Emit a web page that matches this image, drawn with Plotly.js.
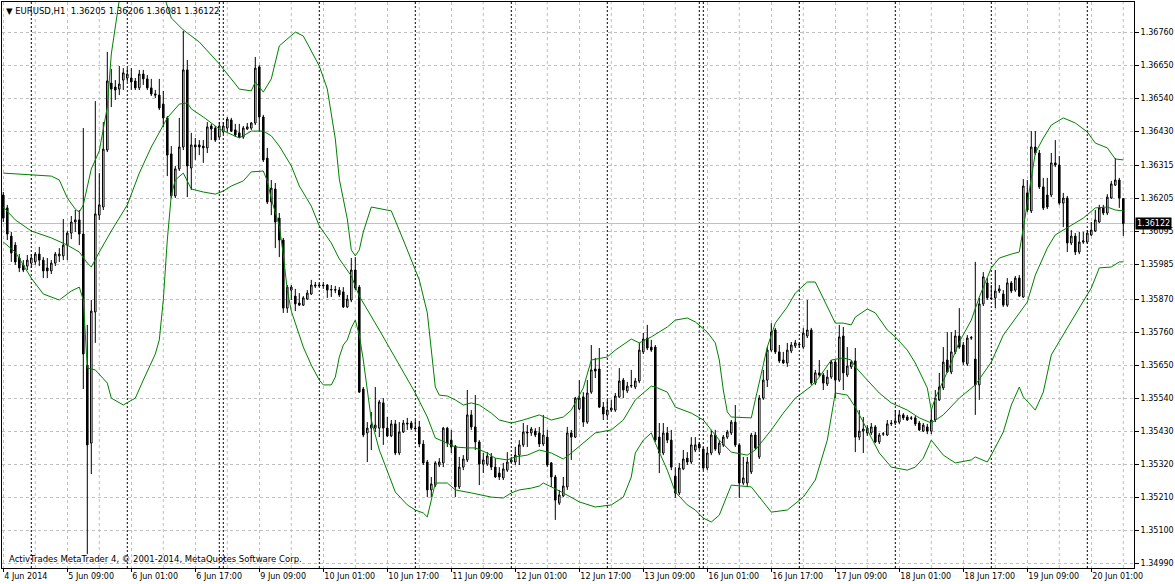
<!DOCTYPE html>
<html><head><meta charset="utf-8">
<script src="https://cdn.plot.ly/plotly-3.0.1.min.js"></script>
<style>html,body{margin:0;padding:0;background:#fff;}#chart{width:1175px;height:584px;}</style>
</head><body><div id="chart"></div>
<script>
// bar index 0 = 5 Jun 2014 00:00 (H1 bars, trading hours only)
const firstBar = -7;
const symbolName = "EURUSD,H1";
const opens = [1.36217,1.36174,1.36080,1.36050,1.36007,1.35984,1.35980,1.35990,1.35994,1.36020,1.36000,1.35974,1.35964,1.35990,1.36014,1.36014,1.36050,1.36090,1.36127,1.36134,1.36087,1.35650,1.35390,1.35827,1.36150,1.36177,1.36367,1.36590,1.36577,1.36570,1.36600,1.36607,1.36607,1.36597,1.36574,1.36620,1.36604,1.36574,1.36554,1.36550,1.36520,1.36474,1.36354,1.36214,1.36304,1.36377,1.36634,1.36307,1.36384,1.36384,1.36380,1.36374,1.36447,1.36440,1.36410,1.36427,1.36440,1.36467,1.36434,1.36424,1.36410,1.36437,1.36440,1.36457,1.36644,1.36477,1.36340,1.36194,1.36237,1.36140,1.36067,1.35840,1.35900,1.35880,1.35857,1.35850,1.35870,1.35887,1.35917,1.35914,1.35917,1.35917,1.35900,1.35902,1.35900,1.35894,1.35844,1.35867,1.35967,1.35910,1.35570,1.35424,1.35440,1.35440,1.35440,1.35524,1.35440,1.35414,1.35454,1.35357,1.35427,1.35457,1.35457,1.35440,1.35444,1.35387,1.35327,1.35234,1.35250,1.35317,1.35324,1.35440,1.35400,1.35380,1.35244,1.35310,1.35334,1.35484,1.35444,1.35394,1.35320,1.35320,1.35344,1.35310,1.35290,1.35274,1.35300,1.35327,1.35327,1.35350,1.35384,1.35427,1.35424,1.35430,1.35424,1.35387,1.35410,1.35324,1.35277,1.35190,1.35214,1.35244,1.35424,1.35410,1.35504,1.35544,1.35460,1.35560,1.35637,1.35637,1.35510,1.35484,1.35500,1.35500,1.35544,1.35600,1.35564,1.35580,1.35577,1.35597,1.35694,1.35740,1.35710,1.35710,1.35410,1.35357,1.35424,1.35400,1.35280,1.35224,1.35304,1.35340,1.35327,1.35367,1.35387,1.35370,1.35307,1.35357,1.35417,1.35357,1.35384,1.35410,1.35424,1.35460,1.35384,1.35257,1.35257,1.35294,1.35417,1.35344,1.35540,1.35600,1.35700,1.35767,1.35694,1.35667,1.35657,1.35697,1.35714,1.35717,1.35710,1.35747,1.35767,1.35590,1.35624,1.35617,1.35587,1.35610,1.35660,1.35600,1.35747,1.35617,1.35644,1.35664,1.35410,1.35430,1.35424,1.35424,1.35444,1.35394,1.35420,1.35417,1.35457,1.35457,1.35460,1.35484,1.35477,1.35474,1.35474,1.35457,1.35430,1.35444,1.35430,1.35467,1.35534,1.35574,1.35667,1.35627,1.35694,1.35747,1.35717,1.35654,1.35740,1.35670,1.35584,1.35854,1.35924,1.35874,1.35874,1.35897,1.35887,1.35850,1.35924,1.35900,1.35940,1.35877,1.36224,1.36164,1.36377,1.36357,1.36244,1.36217,1.36217,1.36324,1.36317,1.36190,1.36207,1.36057,1.36080,1.36027,1.36060,1.36060,1.36084,1.36097,1.36127,1.36174,1.36157,1.36207,1.36250,1.36267,1.36205];
const highs = [1.36227,1.36184,1.36094,1.36060,1.36020,1.36000,1.36017,1.36020,1.36027,1.36044,1.36010,1.36007,1.36000,1.36027,1.36040,1.36137,1.36097,1.36147,1.36167,1.36167,1.36440,1.35784,1.35867,1.36530,1.36290,1.36460,1.36694,1.36637,1.36600,1.36647,1.36640,1.36640,1.36640,1.36607,1.36634,1.36634,1.36617,1.36604,1.36567,1.36604,1.36564,1.36480,1.36380,1.36314,1.36474,1.36764,1.36667,1.36424,1.36407,1.36400,1.36400,1.36460,1.36454,1.36447,1.36460,1.36460,1.36477,1.36474,1.36454,1.36454,1.36447,1.36457,1.36460,1.36677,1.36650,1.36484,1.36374,1.36267,1.36257,1.36157,1.36074,1.35917,1.35917,1.35904,1.35890,1.35880,1.35900,1.35934,1.35927,1.35924,1.35927,1.35920,1.35917,1.35914,1.35910,1.35910,1.35884,1.36007,1.36010,1.35917,1.35577,1.35460,1.35494,1.35577,1.35534,1.35540,1.35477,1.35467,1.35467,1.35460,1.35467,1.35474,1.35464,1.35467,1.35464,1.35400,1.35334,1.35277,1.35330,1.35340,1.35444,1.35444,1.35434,1.35384,1.35344,1.35350,1.35567,1.35500,1.35550,1.35400,1.35357,1.35360,1.35357,1.35340,1.35310,1.35324,1.35360,1.35344,1.35377,1.35400,1.35457,1.35450,1.35444,1.35440,1.35444,1.35484,1.35434,1.35327,1.35284,1.35234,1.35277,1.35444,1.35434,1.35544,1.35600,1.35560,1.35600,1.35717,1.35674,1.35707,1.35527,1.35534,1.35534,1.35557,1.35640,1.35607,1.35594,1.35634,1.35607,1.35724,1.35757,1.35784,1.35734,1.35717,1.35457,1.35457,1.35444,1.35434,1.35310,1.35324,1.35367,1.35360,1.35410,1.35410,1.35394,1.35377,1.35377,1.35434,1.35434,1.35400,1.35417,1.35434,1.35467,1.35517,1.35390,1.35344,1.35344,1.35424,1.35427,1.35550,1.35634,1.35710,1.35790,1.35774,1.35717,1.35694,1.35724,1.35727,1.35734,1.35727,1.35774,1.35867,1.35774,1.35634,1.35667,1.35624,1.35634,1.35667,1.35667,1.35784,1.35777,1.35710,1.35667,1.35707,1.35500,1.35477,1.35450,1.35457,1.35450,1.35424,1.35427,1.35467,1.35467,1.35500,1.35500,1.35490,1.35484,1.35480,1.35480,1.35464,1.35457,1.35454,1.35500,1.35567,1.35624,1.35710,1.35760,1.35760,1.35767,1.35840,1.35727,1.35750,1.35747,1.35994,1.35874,1.35960,1.35940,1.35917,1.35967,1.35917,1.35900,1.35940,1.35930,1.35947,1.35950,1.36270,1.36267,1.36430,1.36430,1.36367,1.36274,1.36274,1.36357,1.36400,1.36347,1.36224,1.36214,1.36100,1.36090,1.36094,1.36094,1.36100,1.36127,1.36167,1.36184,1.36184,1.36220,1.36264,1.36340,1.36274,1.36206];
const lows = [1.36127,1.36067,1.35994,1.35984,1.35960,1.35960,1.35967,1.35974,1.35984,1.35980,1.35940,1.35940,1.35954,1.35980,1.35994,1.36000,1.36000,1.36070,1.36094,1.36050,1.35570,1.35020,1.35287,1.35724,1.36134,1.36167,1.36360,1.36510,1.36534,1.36550,1.36567,1.36594,1.36567,1.36567,1.36567,1.36584,1.36567,1.36547,1.36540,1.36500,1.36444,1.36280,1.36207,1.36207,1.36297,1.36367,1.36210,1.36234,1.36334,1.36350,1.36324,1.36357,1.36400,1.36394,1.36407,1.36420,1.36427,1.36427,1.36410,1.36407,1.36404,1.36434,1.36434,1.36450,1.36427,1.36327,1.36187,1.36150,1.36040,1.36010,1.35824,1.35824,1.35867,1.35830,1.35847,1.35847,1.35867,1.35884,1.35907,1.35910,1.35904,1.35874,1.35877,1.35890,1.35877,1.35840,1.35840,1.35860,1.35900,1.35557,1.35410,1.35327,1.35367,1.35427,1.35410,1.35384,1.35410,1.35410,1.35350,1.35350,1.35424,1.35434,1.35434,1.35434,1.35377,1.35317,1.35210,1.35210,1.35244,1.35310,1.35310,1.35377,1.35357,1.35210,1.35237,1.35300,1.35327,1.35434,1.35367,1.35250,1.35290,1.35314,1.35300,1.35274,1.35267,1.35267,1.35294,1.35324,1.35317,1.35317,1.35377,1.35377,1.35414,1.35410,1.35377,1.35380,1.35310,1.35244,1.35134,1.35184,1.35210,1.35234,1.35334,1.35407,1.35500,1.35444,1.35454,1.35554,1.35607,1.35507,1.35467,1.35474,1.35494,1.35494,1.35540,1.35540,1.35557,1.35574,1.35570,1.35590,1.35687,1.35700,1.35694,1.35394,1.35290,1.35350,1.35390,1.35300,1.35207,1.35217,1.35300,1.35317,1.35320,1.35360,1.35367,1.35300,1.35300,1.35350,1.35364,1.35350,1.35377,1.35404,1.35417,1.35377,1.35207,1.35250,1.35244,1.35287,1.35367,1.35337,1.35534,1.35577,1.35694,1.35687,1.35657,1.35654,1.35644,1.35690,1.35707,1.35707,1.35704,1.35740,1.35584,1.35584,1.35610,1.35567,1.35580,1.35604,1.35540,1.35594,1.35567,1.35610,1.35637,1.35360,1.35400,1.35357,1.35414,1.35417,1.35390,1.35387,1.35414,1.35414,1.35447,1.35450,1.35454,1.35467,1.35464,1.35467,1.35447,1.35430,1.35427,1.35420,1.35420,1.35460,1.35530,1.35567,1.35624,1.35620,1.35687,1.35704,1.35650,1.35647,1.35734,1.35484,1.35534,1.35847,1.35867,1.35867,1.35840,1.35890,1.35844,1.35844,1.35890,1.35894,1.35877,1.35874,1.36160,1.36157,1.36350,1.36237,1.36167,1.36170,1.36210,1.36310,1.36184,1.36110,1.36027,1.36050,1.36017,1.36020,1.36054,1.36054,1.36080,1.36094,1.36124,1.36150,1.36150,1.36204,1.36247,1.36174,1.36081];
const closes = [1.36140,1.36087,1.36024,1.35994,1.35974,1.35967,1.36000,1.36007,1.36020,1.36000,1.35964,1.35964,1.35990,1.36020,1.36020,1.36050,1.36090,1.36127,1.36134,1.36087,1.35687,1.35384,1.35830,1.36154,1.36184,1.36370,1.36597,1.36570,1.36567,1.36587,1.36624,1.36620,1.36594,1.36574,1.36620,1.36604,1.36574,1.36554,1.36550,1.36507,1.36474,1.36350,1.36214,1.36304,1.36377,1.36634,1.36314,1.36384,1.36377,1.36377,1.36374,1.36444,1.36437,1.36400,1.36447,1.36447,1.36470,1.36430,1.36417,1.36410,1.36440,1.36444,1.36457,1.36640,1.36477,1.36334,1.36194,1.36240,1.36127,1.36067,1.35840,1.35910,1.35910,1.35854,1.35850,1.35874,1.35890,1.35917,1.35914,1.35917,1.35915,1.35900,1.35902,1.35900,1.35884,1.35844,1.35870,1.35967,1.35907,1.35560,1.35417,1.35440,1.35450,1.35450,1.35527,1.35440,1.35414,1.35454,1.35357,1.35427,1.35457,1.35454,1.35440,1.35438,1.35387,1.35324,1.35234,1.35254,1.35324,1.35327,1.35440,1.35390,1.35377,1.35244,1.35310,1.35337,1.35484,1.35444,1.35394,1.35320,1.35334,1.35347,1.35310,1.35277,1.35277,1.35304,1.35327,1.35334,1.35350,1.35384,1.35427,1.35424,1.35437,1.35417,1.35387,1.35417,1.35317,1.35277,1.35200,1.35217,1.35247,1.35424,1.35410,1.35540,1.35540,1.35460,1.35557,1.35634,1.35630,1.35510,1.35487,1.35500,1.35507,1.35547,1.35597,1.35567,1.35580,1.35582,1.35597,1.35700,1.35737,1.35707,1.35700,1.35400,1.35357,1.35424,1.35400,1.35310,1.35224,1.35307,1.35337,1.35327,1.35384,1.35384,1.35374,1.35307,1.35357,1.35417,1.35370,1.35390,1.35410,1.35427,1.35460,1.35384,1.35257,1.35274,1.35327,1.35417,1.35374,1.35540,1.35600,1.35700,1.35760,1.35694,1.35664,1.35657,1.35700,1.35717,1.35724,1.35719,1.35757,1.35767,1.35590,1.35624,1.35617,1.35590,1.35610,1.35660,1.35600,1.35744,1.35624,1.35647,1.35660,1.35410,1.35430,1.35437,1.35440,1.35444,1.35394,1.35417,1.35421,1.35454,1.35455,1.35464,1.35484,1.35474,1.35467,1.35473,1.35454,1.35434,1.35450,1.35430,1.35467,1.35540,1.35577,1.35660,1.35627,1.35694,1.35747,1.35710,1.35660,1.35740,1.35742,1.35584,1.35854,1.35944,1.35874,1.35872,1.35897,1.35904,1.35850,1.35924,1.35897,1.35940,1.35880,1.36247,1.36167,1.36377,1.36357,1.36244,1.36174,1.36177,1.36324,1.36317,1.36190,1.36207,1.36057,1.36080,1.36027,1.36060,1.36064,1.36090,1.36100,1.36134,1.36174,1.36157,1.36210,1.36254,1.36267,1.36207,1.36122];

const upperBars = [-7,5,7,9,11,12,13,15,17,19,20,22,24,28,31,33,35,38,42,47,52,55,56,58,60,62,65,66,68,72,74,76,77,79,80,81,82,83,85,90,93,97,99,100,101,102,104,106,108,110,112,115,117,120,123,127,130,133,135,138,140,144,146,150,152,155,159,161,164,166,169,171,172,173,174,175,180,181,184,186,189,191,194,196,199,201,203,205,206,209,211,214,216,219,221,224,225,226,229,232,235,237,240,242,245,247,248,250,251,253,255,258,261,264,266,269,271,273];
const upperVals = [1.36290,1.36280,1.36267,1.36207,1.36170,1.36160,1.36184,1.36304,1.36364,1.36510,1.36687,1.36867,1.36967,1.37034,1.36967,1.36884,1.36807,1.36767,1.36727,1.36654,1.36570,1.36564,1.36594,1.36560,1.36604,1.36714,1.36747,1.36760,1.36747,1.36647,1.36570,1.36404,1.36270,1.36137,1.36034,1.36014,1.36034,1.36094,1.36177,1.36164,1.36067,1.35934,1.35824,1.35700,1.35577,1.35550,1.35547,1.35534,1.35517,1.35524,1.35517,1.35490,1.35467,1.35457,1.35467,1.35484,1.35467,1.35477,1.35500,1.35574,1.35667,1.35677,1.35700,1.35737,1.35724,1.35744,1.35777,1.35800,1.35807,1.35794,1.35760,1.35724,1.35667,1.35567,1.35494,1.35477,1.35474,1.35534,1.35710,1.35790,1.35844,1.35890,1.35927,1.35927,1.35844,1.35790,1.35790,1.35784,1.35810,1.35837,1.35824,1.35767,1.35744,1.35700,1.35657,1.35574,1.35500,1.35540,1.35627,1.35727,1.35800,1.35877,1.35974,1.36007,1.36020,1.36027,1.36107,1.36284,1.36357,1.36407,1.36450,1.36474,1.36457,1.36427,1.36390,1.36374,1.36337,1.36334];
const middleBars = [-7,-4,0,5,9,12,14,15,17,20,24,27,30,34,37,39,40,43,47,52,55,58,60,62,65,67,70,72,75,77,80,82,87,92,96,99,101,104,106,109,111,114,116,119,121,124,127,130,133,135,138,141,145,148,151,155,156,159,161,165,168,171,172,175,179,181,185,188,191,195,197,200,203,205,206,209,212,215,219,222,225,228,232,236,240,243,246,249,251,254,256,260,263,266,269,271,273];
const middleVals = [1.36177,1.36134,1.36097,1.36074,1.36050,1.36027,1.35990,1.35977,1.36027,1.36097,1.36184,1.36290,1.36377,1.36474,1.36520,1.36524,1.36504,1.36477,1.36437,1.36407,1.36430,1.36430,1.36414,1.36380,1.36314,1.36247,1.36180,1.36114,1.36057,1.36004,1.35947,1.35880,1.35767,1.35650,1.35557,1.35477,1.35407,1.35390,1.35377,1.35374,1.35374,1.35357,1.35340,1.35334,1.35344,1.35350,1.35367,1.35357,1.35337,1.35357,1.35390,1.35424,1.35434,1.35467,1.35534,1.35580,1.35577,1.35560,1.35510,1.35490,1.35467,1.35417,1.35400,1.35360,1.35350,1.35367,1.35434,1.35490,1.35540,1.35580,1.35610,1.35667,1.35674,1.35667,1.35644,1.35600,1.35557,1.35524,1.35500,1.35474,1.35457,1.35484,1.35540,1.35584,1.35660,1.35750,1.35807,1.35860,1.35950,1.36040,1.36084,1.36117,1.36140,1.36174,1.36177,1.36167,1.36164];
const lowerBars = [-7,-4,0,3,7,10,12,13,14,16,19,20,23,26,28,31,32,33,34,35,36,38,40,43,46,48,50,53,55,58,59,60,62,63,64,65,66,68,70,72,73,75,76,77,78,79,80,81,82,83,84,85,87,89,91,94,96,98,99,100,101,104,106,110,115,118,120,122,125,127,128,130,133,137,141,145,148,150,151,153,155,156,159,161,164,166,168,170,172,175,180,185,189,193,196,199,201,204,206,209,212,215,219,221,223,225,228,231,235,236,239,240,243,245,247,248,251,253,255,259,262,265,267,270,272,273];
const lowerVals = [1.36060,1.36027,1.35940,1.35887,1.35867,1.35897,1.35910,1.35867,1.35640,1.35634,1.35590,1.35540,1.35517,1.35540,1.35600,1.35687,1.35734,1.35867,1.36067,1.36217,1.36267,1.36290,1.36237,1.36227,1.36220,1.36230,1.36247,1.36264,1.36294,1.36297,1.36264,1.36204,1.36114,1.36017,1.35900,1.35830,1.35790,1.35710,1.35650,1.35600,1.35584,1.35584,1.35610,1.35677,1.35717,1.35734,1.35774,1.35800,1.35750,1.35667,1.35567,1.35467,1.35367,1.35294,1.35227,1.35184,1.35167,1.35157,1.35144,1.35200,1.35257,1.35257,1.35234,1.35224,1.35210,1.35207,1.35224,1.35234,1.35240,1.35247,1.35257,1.35244,1.35224,1.35194,1.35177,1.35184,1.35210,1.35277,1.35357,1.35400,1.35424,1.35390,1.35300,1.35227,1.35184,1.35167,1.35140,1.35127,1.35150,1.35250,1.35244,1.35160,1.35167,1.35210,1.35267,1.35400,1.35557,1.35550,1.35510,1.35434,1.35357,1.35310,1.35300,1.35310,1.35340,1.35400,1.35350,1.35324,1.35334,1.35344,1.35327,1.35350,1.35427,1.35517,1.35577,1.35544,1.35500,1.35560,1.35684,1.35774,1.35840,1.35907,1.35974,1.35977,1.35994,1.35994];

// axis labels
const timeLabelBars = [-7,9,25,41,57,73,89,105,121,137,153,169,185,201,217,233,249,265];
const timeLabels = ["4 Jun 2014","5 Jun 09:00","6 Jun 01:00","6 Jun 17:00","9 Jun 09:00","10 Jun 01:00","10 Jun 17:00","11 Jun 09:00","12 Jun 01:00","12 Jun 17:00","13 Jun 09:00","16 Jun 01:00","16 Jun 17:00","17 Jun 09:00","18 Jun 01:00","18 Jun 17:00","19 Jun 09:00","20 Jun 01:00"];
const priceTicks = [1.36760,1.36650,1.36540,1.36430,1.36315,1.36205,1.36095,1.35985,1.35870,1.35760,1.35650,1.35540,1.35430,1.35320,1.35210,1.35100,1.34990];
const daySeparatorBars = [0,24,47,48,72,96,120,144,167,168,192,216,240,264];
const copyrightText = "ActivTrades MetaTrader 4, © 2001-2014, MetaQuotes Software Corp.";

const bars = opens.map((_, i) => firstBar + i);
const last = opens.length - 1;
const lastPrice = closes[last];
const FONT = "DejaVu Sans, Verdana, sans-serif";
const GREEN = "#008000";
const GRID = "#C0C0C0";

const traces = [
  {
    type: "candlestick", x: bars, open: opens, high: highs, low: lows, close: closes,
    increasing: {line: {color: "#000", width: 1}, fillcolor: "#fff"},
    decreasing: {line: {color: "#000", width: 1}, fillcolor: "#000"},
    whiskerwidth: 0, hoverinfo: "skip", showlegend: false
  },
  {type: "scatter", mode: "lines", x: upperBars, y: upperVals, line: {color: GREEN, width: 1}, hoverinfo: "skip", showlegend: false},
  {type: "scatter", mode: "lines", x: middleBars, y: middleVals, line: {color: GREEN, width: 1}, hoverinfo: "skip", showlegend: false},
  {type: "scatter", mode: "lines", x: lowerBars, y: lowerVals, line: {color: GREEN, width: 1}, hoverinfo: "skip", showlegend: false}
];

const shapes = [];
// intermediate vertical grid lines (between labelled ticks)
timeLabelBars.forEach(b => {
  shapes.push({type: "line", layer: "below", xref: "x", yref: "paper", x0: b + 8, x1: b + 8, y0: 0, y1: 1,
    line: {color: GRID, width: 1, dash: "3px,3px"}});
});
// day separators
daySeparatorBars.forEach(b => {
  shapes.push({type: "line", layer: "between", xref: "x", yref: "paper", x0: b, x1: b, y0: 0, y1: 1,
    line: {color: "#000", width: 1, dash: "2px,2px"}});
});
// last price line
shapes.push({type: "line", layer: "between", xref: "paper", yref: "y", x0: 0, x1: 1, y0: lastPrice, y1: lastPrice,
  line: {color: GRID, width: 1}});

const annotations = [
  {xref: "paper", yref: "paper", x: 0, y: 1, xanchor: "left", yanchor: "top", xshift: 2, yshift: -2, showarrow: false,
   text: "\u25BC\u00a0" + symbolName + "\u00a0\u00a0" + [opens[last], highs[last], lows[last], closes[last]].map(v => v.toFixed(5)).join("\u00a0"),
   font: {family: FONT, size: 8.5, color: "#000"}},
  {xref: "paper", yref: "paper", x: 0, y: 0, xanchor: "left", yanchor: "bottom", xshift: 5, yshift: 2, showarrow: false,
   text: copyrightText, font: {family: FONT, size: 8.5, color: "#000"}},
  {xref: "paper", yref: "y", x: 1, y: lastPrice, xanchor: "left", yanchor: "middle", xshift: 1, showarrow: false,
   text: lastPrice.toFixed(5), bgcolor: "#000", borderpad: 1, font: {family: FONT, size: 8, color: "#fff"}}
];

const layout = {
  width: 1175, height: 584,
  margin: {l: 2, r: 41, t: 2, b: 16, pad: 0},
  paper_bgcolor: "#fff", plot_bgcolor: "#fff",
  showlegend: false,
  boxgap: 0.45,
  font: {family: FONT, size: 8, color: "#000"},
  xaxis: {
    type: "linear", range: [-7.325, 275.675], fixedrange: true,
    rangeslider: {visible: false},
    tickmode: "array", tickvals: timeLabelBars, ticktext: timeLabels,
    ticks: "outside", ticklen: 3, tickcolor: "#000", tickwidth: 1,
    ticklabelposition: "outside right",
    tickfont: {family: FONT, size: 8, color: "#000"},
    showgrid: true, gridcolor: GRID, gridwidth: 1, griddash: "3px,3px",
    zeroline: false, showline: true, linecolor: "#000", linewidth: 1, mirror: true
  },
  yaxis: {
    side: "right", range: [1.349737, 1.368603], fixedrange: true,
    tickmode: "array", tickvals: priceTicks, ticktext: priceTicks.map(v => v.toFixed(5)),
    ticks: "outside", ticklen: 4, tickcolor: "#000", tickwidth: 1,
    tickfont: {family: FONT, size: 8, color: "#000"},
    showgrid: true, gridcolor: GRID, gridwidth: 1, griddash: "3px,3px",
    zeroline: false, showline: true, linecolor: "#000", linewidth: 1, mirror: true
  },
  shapes: shapes,
  annotations: annotations
};

Plotly.newPlot("chart", traces, layout, {displayModeBar: false, staticPlot: true});
</script>
</body></html>
